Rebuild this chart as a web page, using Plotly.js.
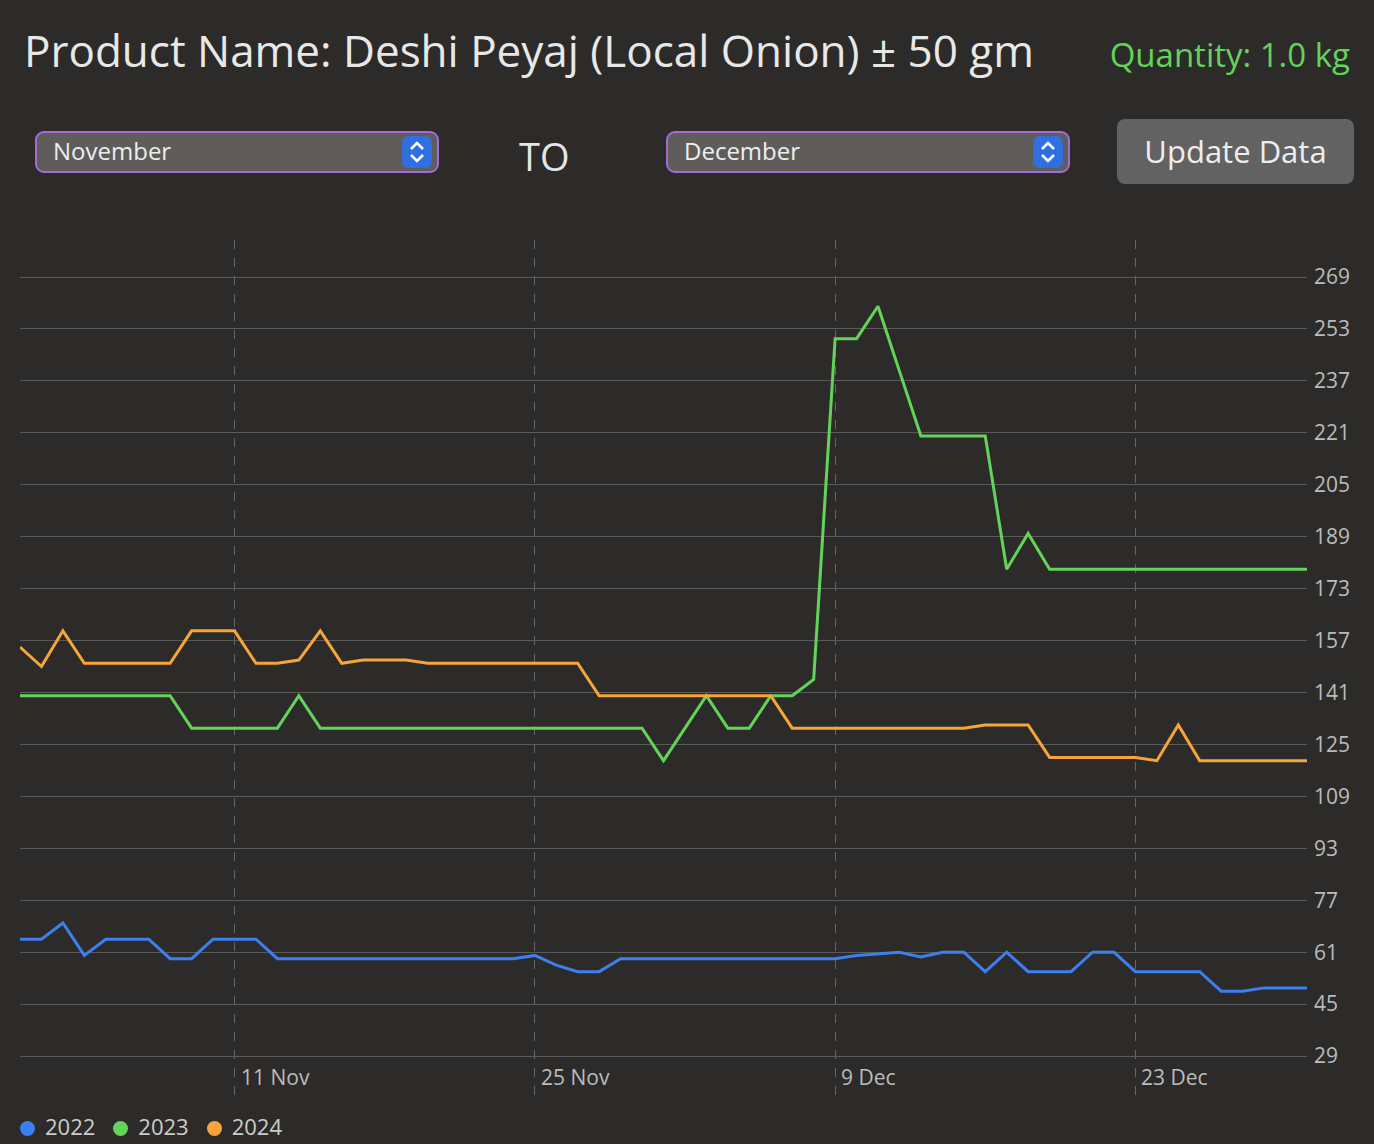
<!DOCTYPE html>
<html><head><meta charset="utf-8">
<script src="https://cdn.plot.ly/plotly-3.0.1.min.js"></script>
<style>
body{margin:0;background:#2c2b29;width:1374px;height:1144px;overflow:hidden;font-family:"Open Sans","Noto Sans",sans-serif;color:#e6e6e6;position:relative}
.t{position:absolute;left:24px;top:20px;font-size:44px;color:#e8e8e8}
.q{position:absolute;right:24px;top:32px;font-size:33px;color:#63d35a}
.sel{position:absolute;top:131px;width:404px;height:42px;border:2px solid #a46bd6;border-radius:9px;background:#5e5d5c;box-sizing:border-box;font-size:24px;line-height:36px;padding-left:16px;color:#eee}
.sel svg{position:absolute;right:5px;top:3px}
.to{position:absolute;left:519px;top:130px;font-size:38px}
.btn{position:absolute;left:1117px;top:119px;width:237px;height:65px;background:#636262;border-radius:8px;font-size:31px;line-height:65px;text-align:center;color:#eee}
#p{position:absolute;left:0;top:200px}
.lg{position:absolute;top:1111px;left:20px;font-size:22px;color:#ccc}
.lg span{margin-right:18px}.lg b{display:inline-block;width:15px;height:15px;border-radius:50%;margin-right:10px;vertical-align:-1px}
</style></head><body>
<div class="t">Product Name: Deshi Peyaj (Local Onion) ± 50 gm</div>
<div class="q">Quantity: 1.0 kg</div>
<div class="sel" style="left:35px">November<svg width="30" height="32"><rect width="30" height="32" rx="7" fill="#2f6fe0"/><path d="M9 13 L15 7 L21 13 M9 19 L15 25 L21 19" stroke="#fff" stroke-width="2.5" fill="none"/></svg></div>
<div class="to">TO</div>
<div class="sel" style="left:666px">December<svg width="30" height="32"><rect width="30" height="32" rx="7" fill="#2f6fe0"/><path d="M9 13 L15 7 L21 13 M9 19 L15 25 L21 19" stroke="#fff" stroke-width="2.5" fill="none"/></svg></div>
<div class="btn">Update Data</div>
<div id="p"></div>
<div class="lg"><span><b style="background:#3b7ff0"></b>2022</span><span><b style="background:#63d35a"></b>2023</span><span><b style="background:#f7a43a"></b>2024</span></div>
<script>
const series2022=[65,65,70,60,65,65,65,59,59,65,65,65,59,59,59,59,59,59,59,59,59,59,59,59,60,57,55,55,59,59,59,59,59,59,59,59,59,59,59,60,60.5,61,59.5,61,61,55,61,55,55,55,61,61,55,55,55,55,49,49,50,50,50];
const series2023=[140,140,140,140,140,140,140,140,130,130,130,130,130,140,130,130,130,130,130,130,130,130,130,130,130,130,130,130,130,130,120,130,140,130,130,140,140,145,250,250,260,240,220,220,220,220,179,190,179,179,179,179,179,179,179,179,179,179,179,179,179];
const series2024=[155,149,160,150,150,150,150,150,160,160,160,150,150,151,160,150,151,151,151,150,150,150,150,150,150,150,150,140,140,140,140,140,140,140,140,140,130,130,130,130,130,130,130,130,130,131,131,131,121,121,121,121,121,120,131,120,120,120,120,120,120];
const dates=[];for(let i=0;i<61;i++){const d=new Date(Date.UTC(2024,10,1+i));dates.push(d.toISOString().slice(0,10));}
const tickDates=['2024-11-11','2024-11-25','2024-12-09','2024-12-23'];
const tickLabels=['11 Nov','25 Nov','9 Dec','23 Dec'];
const yTicks=[];for(let v=29;v<=269;v+=16)yTicks.push(v);
const mk=(y,c)=>({x:dates,y:y,mode:'lines',line:{color:c,width:3},showlegend:false,hoverinfo:'none'});
Plotly.newPlot('p',[mk(series2022,'#3b7ff0'),mk(series2023,'#63d35a'),mk(series2024,'#f7a43a')],{
width:1374,height:944,paper_bgcolor:'#2c2b29',plot_bgcolor:'#2c2b29',
margin:{l:20,r:67,t:40,b:49},
xaxis:{type:'date',range:['2024-11-01','2024-12-31'],tickvals:tickDates,showticklabels:false,showgrid:true,gridcolor:'#666',griddash:'dash',gridwidth:1,zeroline:false,showline:false},
yaxis:{side:'right',range:[17,280.4],tickvals:yTicks,ticktext:yTicks.map(String),showgrid:true,gridcolor:'#5a5a5a',gridwidth:1,zeroline:false,tickfont:{size:21,color:'#bbb',family:'Open Sans'},ticklabelstandoff:6},
annotations:tickDates.map((d,i)=>({x:d,y:0,xref:'x',yref:'paper',yanchor:'bottom',xanchor:'left',xshift:4,yshift:2,text:tickLabels[i],showarrow:false,font:{size:21,color:'#bbb',family:'Open Sans'}}))
},{staticPlot:true});
</script></body></html>
